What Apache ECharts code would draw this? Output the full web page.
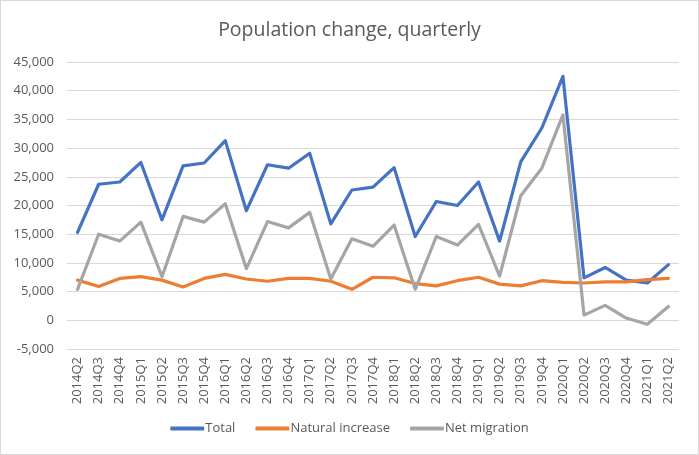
<!DOCTYPE html>
<html><head><meta charset="utf-8">
<script src="https://cdn.jsdelivr.net/npm/echarts@6/dist/echarts.min.js"></script>
<style>html,body{margin:0;padding:0;background:#fff}#c{width:699px;height:455px;box-sizing:border-box;border:1px solid #d9d9d9}</style>
</head><body><div id="c"></div>
<script>
const categories = ["2014Q2","2014Q3","2014Q4","2015Q1","2015Q2","2015Q3","2015Q4","2016Q1","2016Q2","2016Q3","2016Q4","2017Q1","2017Q2","2017Q3","2017Q4","2018Q1","2018Q2","2018Q3","2018Q4","2019Q1","2019Q2","2019Q3","2019Q4","2020Q1","2020Q2","2020Q3","2020Q4","2021Q1","2021Q2"];
const total = [15300,23700,24100,27500,17500,26900,27400,31300,19100,27100,26500,29100,16800,22700,23200,26600,14600,20700,20000,24100,13800,27600,33500,42500,7400,9200,7000,6500,9700];
const naturalIncrease = [7000,5900,7300,7600,7000,5800,7300,8000,7200,6800,7300,7300,6800,5400,7500,7400,6400,6000,6900,7500,6300,6000,6900,6600,6500,6700,6700,7100,7300];
const netMigration = [5400,15000,13800,17100,7600,18100,17100,20300,9000,17200,16100,18800,7200,14200,12900,16600,5400,14600,13100,16700,7700,21700,26500,35800,900,2600,400,-700,2400];
const chart = echarts.init(document.getElementById('c'));
const sans = '"Open Sans", "Noto Sans", sans-serif';
const mk = (name, data, color) => ({name, type:'line', data, symbol:'none', smooth:false,
  lineStyle:{width:3.2, color, cap:'round', join:'round'}, itemStyle:{color}});
chart.setOption({
  animation:false,
  title:{text:'Population change, quarterly', left:'center', top:14,
    textStyle:{fontFamily:sans, fontSize:19.5, fontWeight:'normal', color:'#595959'}},
  grid:{left:66, right:19, top:61, bottom:105},
  legend:{bottom:14, left:'center', itemWidth:34, itemHeight:4, itemGap:20, icon:'roundRect',
    textStyle:{fontFamily:sans, fontSize:13, color:'#595959', padding:[0,0,0,-4]},
    data:['Total','Natural increase','Net migration']},
  xAxis:{type:'category', data:categories, boundaryGap:true,
    axisLine:{show:false}, axisTick:{show:false},
    axisLabel:{rotate:90, interval:0, fontFamily:sans, fontSize:13, color:'#595959', margin:8}},
  yAxis:{type:'value', min:-5000, max:45000, interval:5000,
    axisLine:{show:false}, axisTick:{show:false},
    splitLine:{lineStyle:{color:'#d9d9d9', width:1}},
    axisLabel:{fontFamily:sans, fontSize:13, color:'#595959', margin:13,
      formatter:v=>v.toLocaleString('en-US')}},
  series:[mk('Total', total, '#4472C4'), mk('Natural increase', naturalIncrease, '#ED7D31'), mk('Net migration', netMigration, '#A5A5A5')]
});
</script></body></html>
